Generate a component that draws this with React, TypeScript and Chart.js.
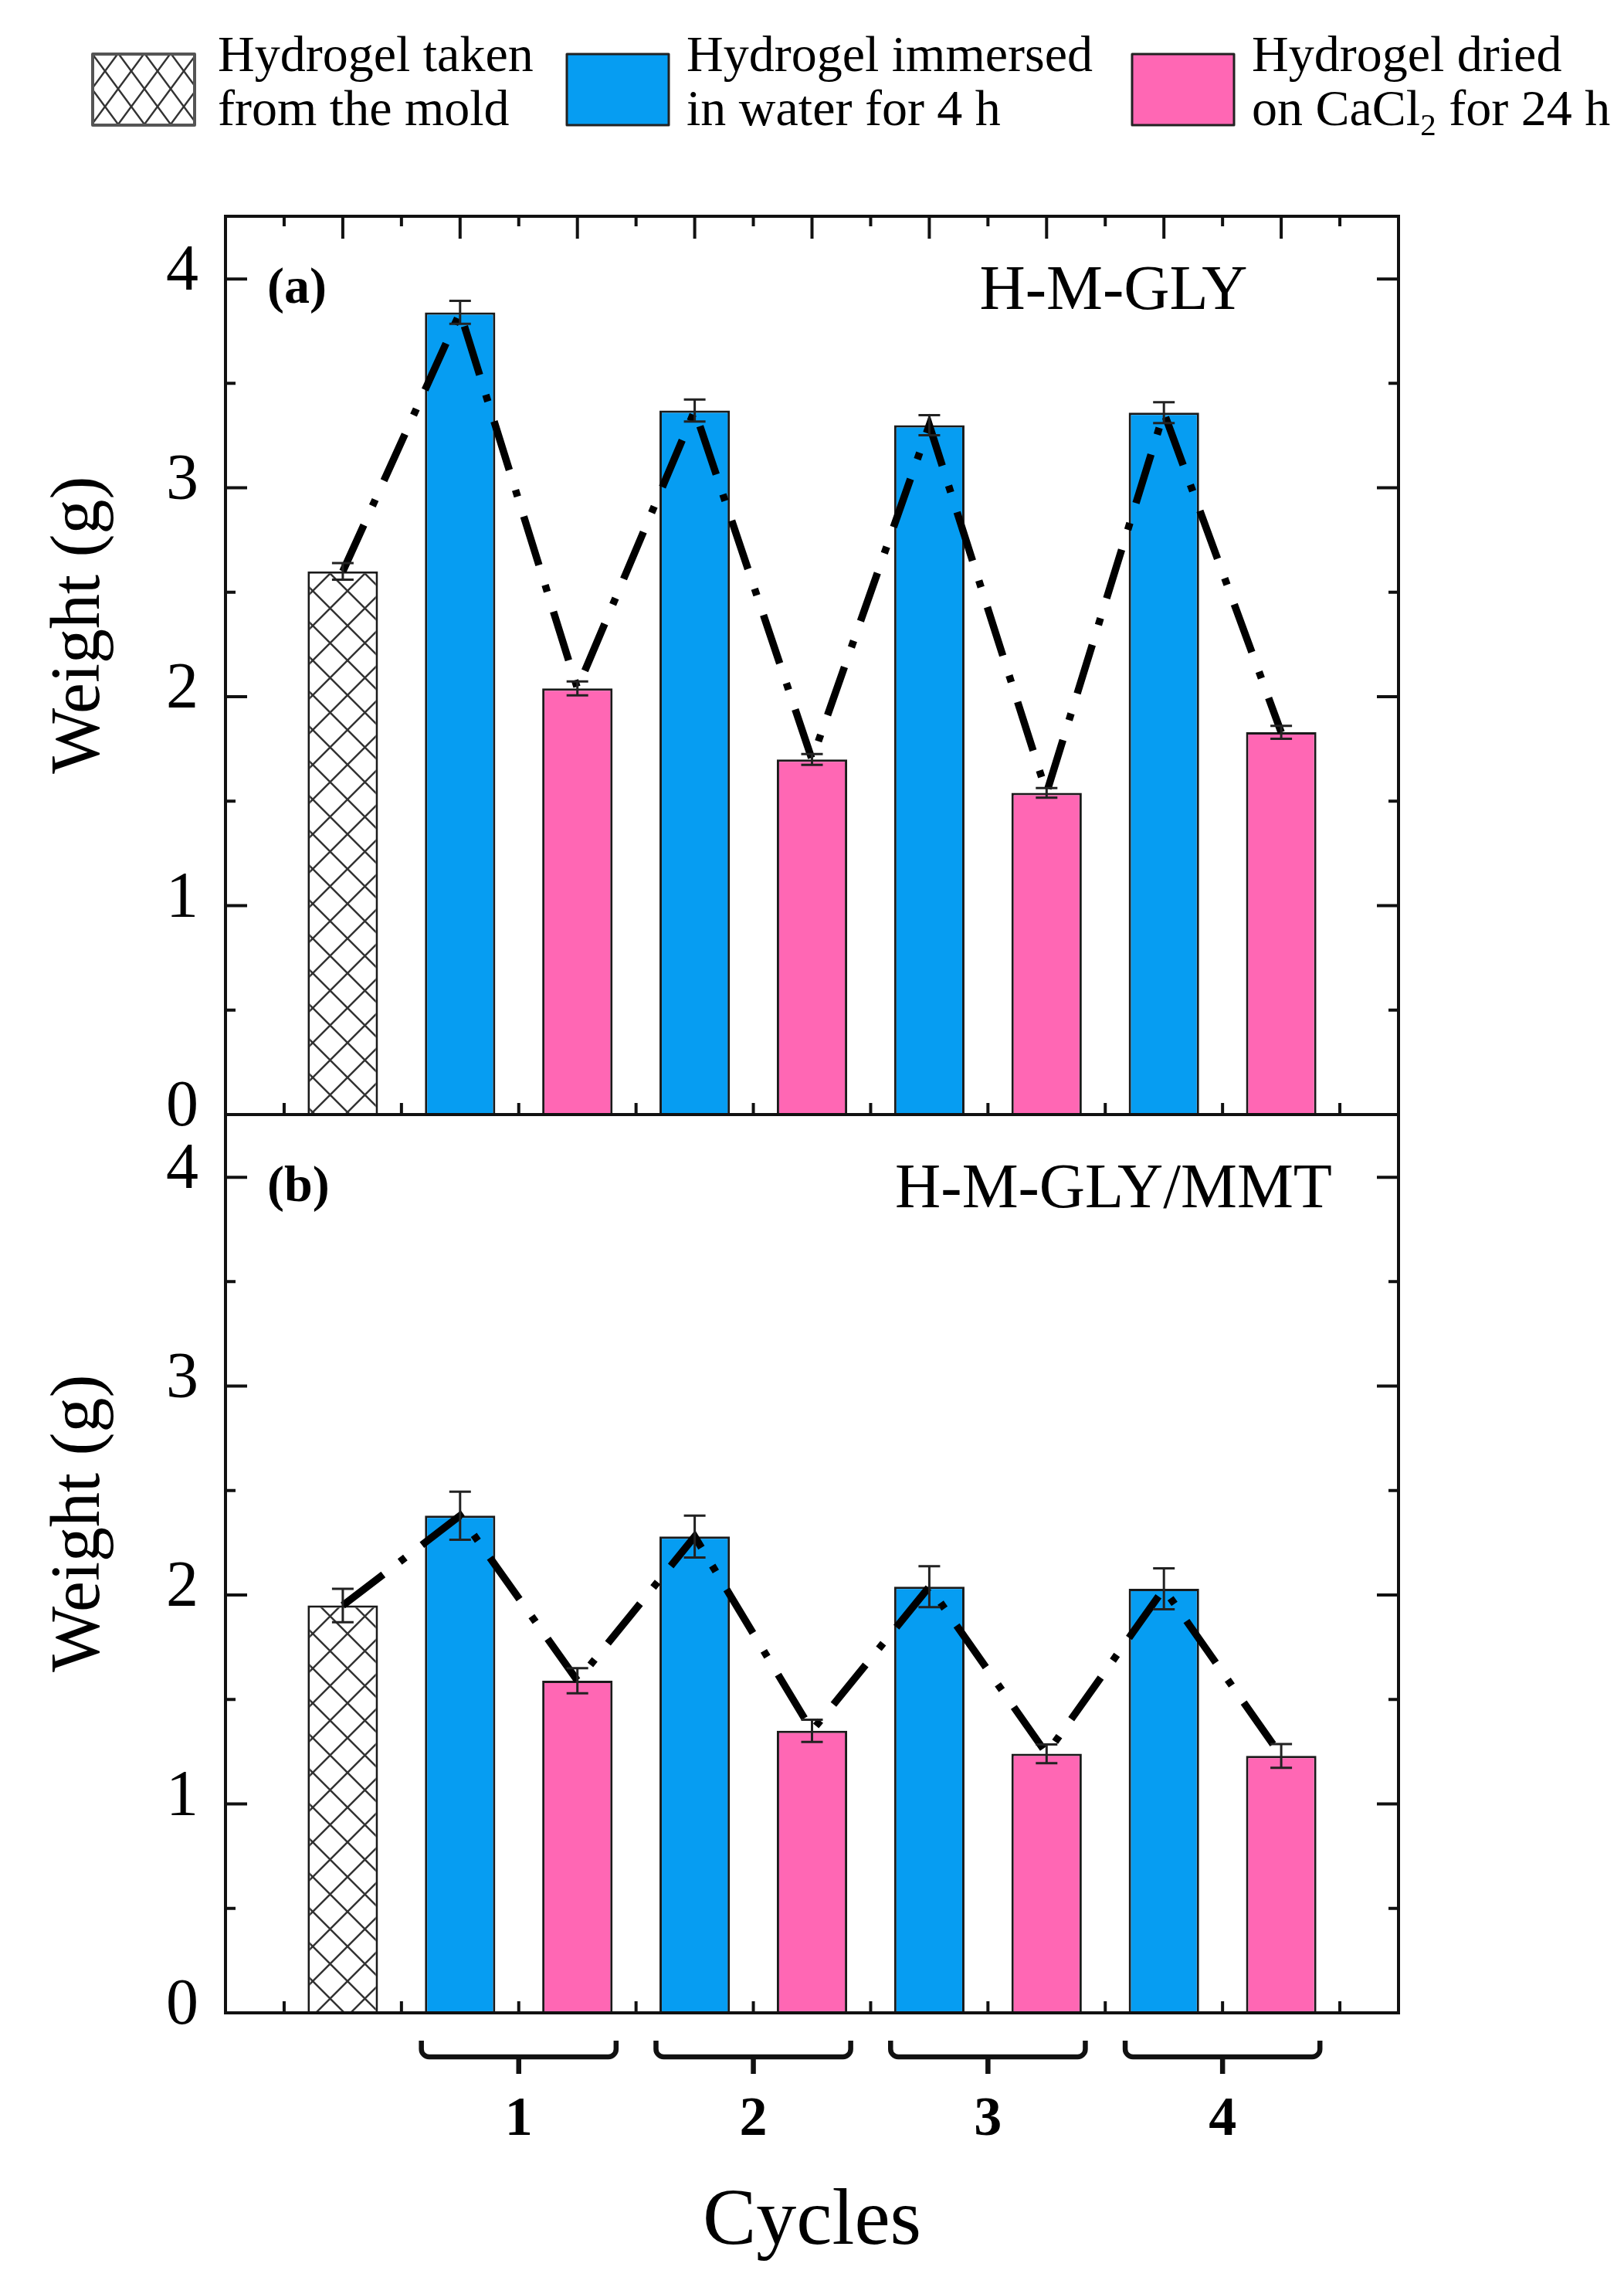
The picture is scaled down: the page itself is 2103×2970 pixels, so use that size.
import { useEffect, useRef } from 'react';
import { Chart, registerables } from 'chart.js';

Chart.register(...registerables);

// bar slots along the x axis, and which stage each slot shows
const positions = [1, 2, 3, 4, 5, 6, 7, 8, 9];
const stageOf = [0, 1, 2, 1, 2, 1, 2, 1, 2];

// (a) H-M-GLY
const weightA = [2.6, 3.84, 2.04, 3.37, 1.7, 3.3, 1.54, 3.36, 1.83];
const errorA = [0.04, 0.055, 0.033, 0.053, 0.026, 0.048, 0.023, 0.05, 0.031];
// (b) H-M-GLY/MMT
const weightB = [1.95, 2.38, 1.59, 2.28, 1.35, 2.04, 1.24, 2.03, 1.23];
const errorB = [0.08, 0.115, 0.06, 0.1, 0.053, 0.098, 0.045, 0.098, 0.057];

const yTicks = [0, 1, 2, 3, 4];
const cycleCenters = [2.5, 4.5, 6.5, 8.5];
const cycleLabels = ['1', '2', '3', '4'];

const stageLabels = [
  ['Hydrogel taken', 'from the mold'],
  ['Hydrogel immersed', 'in water for 4 h'],
  ['Hydrogel dried', 'on CaCl₂ for 24 h'],
];
const panelTags = ['(a)', '(b)'];
const panelNames = ['H-M-GLY', 'H-M-GLY/MMT'];
const yTitle = 'Weight (g)';
const xTitle = 'Cycles';

const W = 2103;
const H = 2970;
const SERIF = "'Liberation Serif', 'Times New Roman', serif";
const BLUE = '#069df2';
const PINK = '#ff67b4';
const INK = '#111';

function makeHatch(w: number, h: number, lw: number) {
  const c = document.createElement('canvas');
  c.width = w;
  c.height = h;
  const g = c.getContext('2d')!;
  g.fillStyle = '#fff';
  g.fillRect(0, 0, w, h);
  g.strokeStyle = '#333';
  g.lineWidth = lw;
  g.beginPath();
  for (const dx of [-w, 0, w]) {
    g.moveTo(dx, 0);
    g.lineTo(dx + w, h);
    g.moveTo(dx + w, 0);
    g.lineTo(dx, h);
  }
  g.stroke();
  return g.createPattern(c, 'repeat')!;
}

function drawRich(ctx: CanvasRenderingContext2D, text: string, x: number, y: number, size: number) {
  let cx = x;
  for (const part of text.split(/(₂)/)) {
    if (!part) continue;
    const sub = part === '₂';
    const s = sub ? '2' : part;
    ctx.font = `${sub ? Math.round(size * 0.62) : size}px ${SERIF}`;
    ctx.fillText(s, cx, sub ? y + size * 0.2 : y);
    cx += ctx.measureText(s).width;
  }
}

function makeDecorPlugin(legendFills: (string | CanvasPattern)[]) {
  return {
    id: 'figureDecor',
    afterDatasetsDraw(chart: any) {
      const { ctx } = chart;
      const x = chart.scales.x;
      const panels = [chart.scales.yA, chart.scales.yB];
      ctx.save();

      // error bars
      ctx.strokeStyle = '#222';
      ctx.lineWidth = 3;
      chart.data.datasets.forEach((ds: any, di: number) => {
        if (!ds.errors) return;
        const meta = chart.getDatasetMeta(di);
        const ys = chart.scales[meta.yAxisID];
        meta.data.forEach((bar: any, i: number) => {
          const v = ds.data[i].y;
          const e = ds.errors[i];
          const t = ys.getPixelForValue(v + e);
          const b = ys.getPixelForValue(v - e);
          ctx.beginPath();
          ctx.moveTo(bar.x, t);
          ctx.lineTo(bar.x, b);
          ctx.moveTo(bar.x - 14, t);
          ctx.lineTo(bar.x + 14, t);
          ctx.moveTo(bar.x - 14, b);
          ctx.lineTo(bar.x + 14, b);
          ctx.stroke();
        });
      });

      // frames and inward ticks
      ctx.strokeStyle = INK;
      ctx.lineWidth = 4;
      panels.forEach((p: any, pi: number) => {
        ctx.strokeRect(x.left, p.top, x.right - x.left, p.bottom - p.top);
        ctx.beginPath();
        for (let v = 0.5; v <= p.max; v += 0.5) {
          const py = p.getPixelForValue(v);
          const len = Number.isInteger(v) ? 28 : 13;
          ctx.moveTo(x.left, py);
          ctx.lineTo(x.left + len, py);
          ctx.moveTo(x.right, py);
          ctx.lineTo(x.right - len, py);
        }
        for (let v = 0.5; v < x.max; v += 0.5) {
          const px = x.getPixelForValue(v);
          if (pi === 0) {
            const len = Number.isInteger(v) ? 29 : 13;
            ctx.moveTo(px, p.top);
            ctx.lineTo(px, p.top + len);
          }
          if (!Number.isInteger(v)) {
            ctx.moveTo(px, p.bottom);
            ctx.lineTo(px, p.bottom - 15);
          }
        }
        ctx.stroke();
      });

      // cycle brackets under the x axis
      ctx.lineWidth = 6.5;
      ctx.lineJoin = 'round';
      const yb = x.top;
      cycleCenters.forEach((c) => {
        const xl = x.getPixelForValue(c - 0.83);
        const xr = x.getPixelForValue(c + 0.83);
        const xc = x.getPixelForValue(c);
        ctx.beginPath();
        ctx.moveTo(xl, yb + 36);
        ctx.arcTo(xl, yb + 57, xl + 12, yb + 57, 10);
        ctx.arcTo(xr, yb + 57, xr, yb + 36, 10);
        ctx.lineTo(xr, yb + 36);
        ctx.moveTo(xc, yb + 57);
        ctx.lineTo(xc, yb + 79);
        ctx.stroke();
      });

      // panel tags, sample names, y titles
      ctx.fillStyle = '#000';
      panels.forEach((p: any, pi: number) => {
        ctx.textAlign = 'left';
        ctx.textBaseline = 'alphabetic';
        ctx.font = `bold 66px ${SERIF}`;
        ctx.fillText(panelTags[pi], x.left + 54, p.top + 112);
        ctx.textAlign = 'center';
        ctx.font = `82px ${SERIF}`;
        ctx.fillText(panelNames[pi], x.right - 369, p.top + 120);
        ctx.save();
        ctx.translate(128, p.top + (p.bottom - p.top) * 0.455);
        ctx.rotate(-Math.PI / 2);
        ctx.font = `90px ${SERIF}`;
        ctx.fillText(yTitle, 0, 0);
        ctx.restore();
      });

      // legend
      const boxX = [120, 734, 1466];
      const textX = [282, 889, 1621];
      stageLabels.forEach((lines, si) => {
        ctx.fillStyle = legendFills[si];
        ctx.fillRect(boxX[si], 70, 132, 92);
        ctx.strokeStyle = si === 0 ? '#555' : '#222';
        ctx.lineWidth = si === 0 ? 4 : 3;
        ctx.strokeRect(boxX[si], 70, 132, 92);
        ctx.fillStyle = '#000';
        ctx.textAlign = 'left';
        lines.forEach((line, li) => drawRich(ctx, line, textX[si], 92 + li * 70, 66));
      });
      ctx.restore();
    },
  };
}

export default function App() {
  const canvasRef = useRef<HTMLCanvasElement>(null);

  useEffect(() => {
    if (!canvasRef.current) return;
    const barHatch = makeHatch(45, 45, 2.5);
    const legendHatch = makeHatch(34, 46, 2.5);
    const fillFor = (pattern: CanvasPattern) => stageOf.map((s) => [pattern, BLUE, PINK][s]);

    const barSet = (values: number[], errors: number[], yAxisID: string) => ({
      type: 'bar' as const,
      data: positions.map((p, i) => ({ x: p, y: values[i] })),
      errors,
      yAxisID,
      backgroundColor: fillFor(barHatch),
      borderColor: '#1a1a1a',
      borderWidth: 3,
      grouped: false,
      barPercentage: 0.6,
      categoryPercentage: 1,
      order: 1,
    });
    const lineSet = (values: number[], yAxisID: string) => ({
      type: 'line' as const,
      data: positions.map((p, i) => ({ x: p, y: values[i] })),
      yAxisID,
      borderColor: '#000',
      borderWidth: 9.5,
      borderDash: [66, 27, 9, 27],
      borderCapStyle: 'butt' as const,
      pointRadius: 0,
      tension: 0,
      fill: false,
      order: 0,
    });
    const yScale = (weight: number) => ({
      type: 'linear' as const,
      position: 'left' as const,
      stack: 'panels',
      stackWeight: 1,
      weight,
      min: 0,
      max: 4.3,
      offset: false,
      afterBuildTicks: (s: any) => {
        s.ticks = yTicks.map((value) => ({ value }));
      },
      afterFit: (s: any) => {
        s.width = 292;
      },
      grid: { display: false, drawTicks: false },
      border: { display: false },
      ticks: { color: '#000', font: { family: SERIF, size: 84 }, padding: 35, labelOffset: -8 },
    });

    const chart = new Chart(canvasRef.current, {
      type: 'bar',
      data: {
        datasets: [
          barSet(weightA, errorA, 'yA'),
          lineSet(weightA, 'yA'),
          barSet(weightB, errorB, 'yB'),
          lineSet(weightB, 'yB'),
        ] as any,
      },
      options: {
        animation: false,
        responsive: false,
        devicePixelRatio: 1,
        events: [],
        layout: { padding: { left: 0, top: 280, right: 292, bottom: 0 } },
        plugins: { legend: { display: false }, tooltip: { enabled: false } },
        scales: {
          x: {
            type: 'linear',
            position: 'bottom',
            min: 0,
            max: 10,
            offset: false,
            afterBuildTicks: (s: any) => {
              s.ticks = cycleCenters.map((value) => ({ value }));
            },
            afterFit: (s: any) => {
              s.height = 364;
            },
            grid: { display: false, drawTicks: false },
            border: { display: false },
            ticks: {
              autoSkip: false,
              maxRotation: 0,
              color: '#000',
              font: { family: SERIF, size: 72, weight: 'bold' },
              padding: 96,
              callback: (_v: any, i: number) => cycleLabels[i],
            },
            title: {
              display: true,
              text: xTitle,
              color: '#000',
              font: { family: SERIF, size: 104 },
              padding: { top: 0, bottom: 30 },
            },
          },
          yA: yScale(1),
          yB: yScale(0),
        } as any,
      },
      plugins: [makeDecorPlugin([legendHatch, BLUE, PINK])],
    });
    return () => {
      chart.destroy();
    };
  }, []);

  return (
    <div style={{ position: 'absolute', left: 0, top: 0, width: W, height: H, background: '#fff' }}>
      <canvas ref={canvasRef} width={W} height={H} style={{ display: 'block', width: W, height: H }} />
    </div>
  );
}
